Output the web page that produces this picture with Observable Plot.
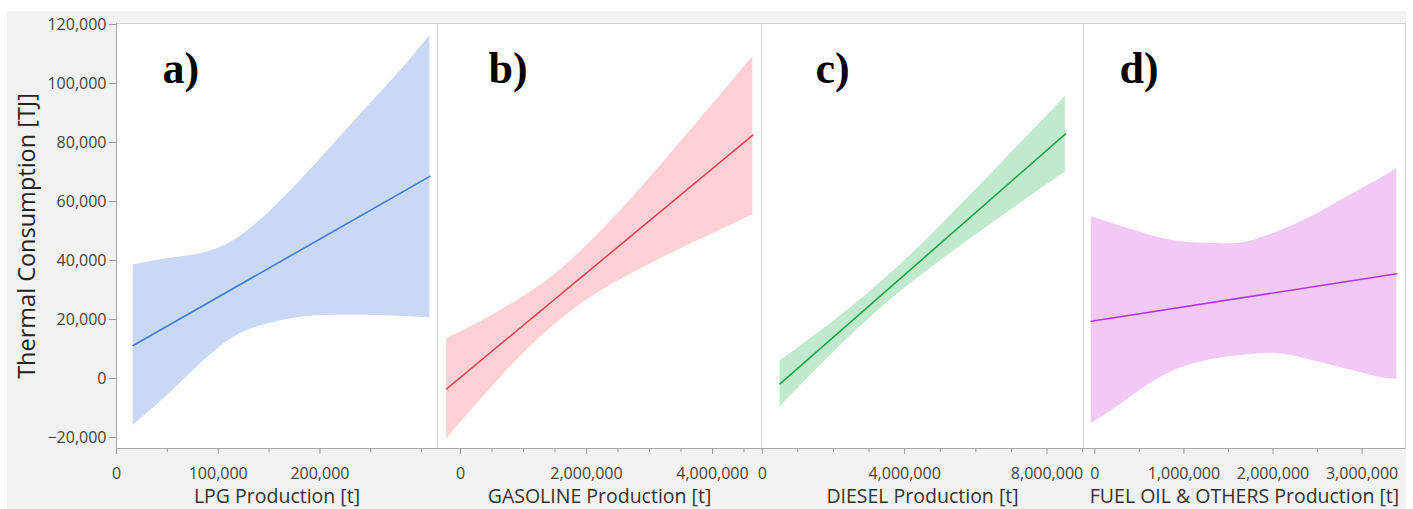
<!DOCTYPE html>
<html>
<head>
<meta charset="utf-8">
<script src="https://cdn.jsdelivr.net/npm/d3@7"></script>
<script src="https://cdn.jsdelivr.net/npm/@observablehq/plot@0.6"></script>
<style>
  html, body { margin: 0; padding: 0; background: #ffffff; }
  #wrap { position: relative; width: 1413px; height: 509px; overflow: hidden; background: #ffffff; }
  #bg { position: absolute; left: 7px; top: 11px; width: 1399px; height: 498px; background: #f2f2f2; }
  .panel { position: absolute; top: 0; }
</style>
</head>
<body>
<div id="wrap"><div id="bg"></div></div>
<script>
// ---------- data ----------
const yTicks = [-20000, 0, 20000, 40000, 60000, 80000, 100000, 120000];
const yDomain = [-23730, 120340];

const panelLetters = ["a)", "b)", "c)", "d)"];
const xLabels = ["LPG Production [t]", "GASOLINE Production [t]", "DIESEL Production [t]", "FUEL OIL & OTHERS Production [t]"];

// a) LPG
const lpgX     = [16400, 49800, 82600, 115300, 148200, 180900, 213700, 246500, 279300, 308100];
const lpgUpper = [38500, 40600, 42300, 46800, 55800, 67100, 79500, 92000, 104400, 116300];
const lpgLower = [-15900, -5800, 5000, 14000, 18500, 20800, 21400, 21400, 21000, 20600];
const lpgFitX  = [16400, 308100];
const lpgFitY  = [11200, 68500];
const lpgTickLabels = [0, 100000, 200000];
const lpgTicks = [0, 50000, 100000, 150000, 200000, 250000, 300000];

// b) GASOLINE
const gasX     = [-220000, 160000, 630000, 1110000, 1590000, 2060000, 2540000, 3020000, 3490000, 3970000, 4440000, 4640000];
const gasUpper = [13500, 17500, 23000, 29300, 36900, 46300, 56900, 68400, 80100, 92100, 104100, 109100];
const gasLower = [-20400, -11100, 200, 10800, 20000, 27400, 33500, 38900, 43900, 48700, 53500, 55400];
const gasFitX  = [-220000, 4640000];
const gasFitY  = [-3500, 82500];
const gasTickLabels = [0, 2000000, 4000000];
const gasTicks = [0, 500000, 1000000, 1500000, 2000000, 2500000, 3000000, 3500000, 4000000, 4500000];

// c) DIESEL
const dieX     = [500000, 1360000, 2200000, 3040000, 3880000, 4730000, 5570000, 6410000, 7260000, 7960000, 8520000];
const dieUpper = [6000, 13600, 21300, 29600, 38600, 48400, 58700, 69100, 79800, 88600, 95800];
const dieLower = [-9600, 1100, 11200, 20700, 29400, 37400, 44900, 52200, 59400, 65400, 70100];
const dieFitX  = [500000, 8520000];
const dieFitY  = [-1800, 82900];
const dieTickLabels = [0, 4000000, 8000000];
const dieTicks = [0, 1000000, 2000000, 3000000, 4000000, 5000000, 6000000, 7000000, 8000000, 9000000];

// d) FUEL OIL & OTHERS
const fuelX     = [-40000, 250000, 620000, 1000000, 1370000, 1680000, 2050000, 2430000, 2800000, 3170000, 3390000];
const fuelUpper = [54800, 52000, 48600, 46300, 45800, 46100, 49700, 54800, 61000, 67200, 71200];
const fuelLower = [-15300, -9600, -1700, 4000, 6800, 7900, 8500, 6200, 3400, 600, -300];
const fuelFitX  = [-40000, 3390000];
const fuelFitY  = [19400, 35500];
const fuelTickLabels = [0, 1000000, 2000000, 3000000];
const fuelTicks = [0, 500000, 1000000, 1500000, 2000000, 2500000, 3000000];

// ---------- panel setup (layout / style) ----------
const panels = [
  {x: lpgX, up: lpgUpper, lo: lpgLower, fx: lpgFitX, fy: lpgFitY, labels: lpgTickLabels, ticks: lpgTicks,
   domain: [0, 315600], fill: "#c9d8f4", stroke: "#3b7ee0", frameLeft: 116, frameWidth: 321, withY: true, letterDx: 46},
  {x: gasX, up: gasUpper, lo: gasLower, fx: gasFitX, fy: gasFitY, labels: gasTickLabels, ticks: gasTicks,
   domain: [-365000, 4778000], fill: "#ffd1d6", stroke: "#f0414f", frameLeft: 437, frameWidth: 324, withY: false, letterDx: 51},
  {x: dieX, up: dieUpper, lo: dieLower, fx: dieFitX, fy: dieFitY, labels: dieTickLabels, ticks: dieTicks,
   domain: [-20000, 9025000], fill: "#c0e9cd", stroke: "#17a548", frameLeft: 761, frameWidth: 322, withY: false, letterDx: 54},
  {x: fuelX, up: fuelUpper, lo: fuelLower, fx: fuelFitX, fy: fuelFitY, labels: fuelTickLabels, ticks: fuelTicks,
   domain: [-127000, 3487000], fill: "#f0c9f5", stroke: "#b435e3", frameLeft: 1083, frameWidth: 322, withY: false, letterDx: 36}
];

const font = "'Open Sans', 'Noto Sans', sans-serif";
const wrap = document.getElementById("wrap");

panels.forEach((p, i) => {
  const band = p.x.map((x, j) => ({x, lo: p.lo[j], hi: p.up[j]}));
  const fit = p.fx.map((x, j) => ({x, y: p.fy[j]}));
  const ml = p.withY ? p.frameLeft : 40;
  const mr = i === 3 ? 8 : 40;
  const minor = p.ticks.filter(t => !p.labels.includes(t));
  const marks = [
    Plot.frame({fill: "white", stroke: null}),
    Plot.areaY(band, {x: "x", y1: "lo", y2: "hi", fill: p.fill, curve: "natural"}),
    Plot.line(fit, {x: "x", y: "y", stroke: p.stroke, strokeWidth: 1.6}),
    Plot.frame({stroke: "#d2d2d2", strokeWidth: 1}),
    Plot.ruleY([yDomain[0]], {stroke: "#a8a8a8", strokeWidth: 1}),
    Plot.axisX({ticks: minor, tickSize: 4, stroke: "#9a9a9a", fill: "none", label: null}),
    Plot.axisX({ticks: p.labels, tickSize: 6, tickPadding: 13, stroke: "#9a9a9a", tickFormat: d3.format(","),
      fill: "#444", fontSize: 16, label: null}),
    Plot.text([xLabels[i]], {frameAnchor: "bottom", dy: 54, fontSize: 19.5, fill: "#333", fontFamily: font}),
    Plot.text([panelLetters[i]], {frameAnchor: "top-left", dx: p.letterDx, dy: 59, lineAnchor: "bottom",
      textAnchor: "start", fontSize: 44, fontWeight: "bold", fontFamily: "'Liberation Serif', 'DejaVu Serif', serif", fill: "#000"})
  ];
  if (p.withY) {
    marks.push(
      Plot.ruleX([p.domain[0]], {stroke: "#a8a8a8", strokeWidth: 1}),
      Plot.axisY({ticks: yTicks, tickSize: 7, tickPadding: 3, stroke: "#9a9a9a", tickFormat: d3.format(","),
        fill: "#444", fontSize: 16, label: null}),
      Plot.text(["Thermal Consumption [TJ]"], {frameAnchor: "left", dx: -89, rotate: -90, fontSize: 23.5,
        textAnchor: "middle", lineAnchor: "middle", fill: "#222", fontFamily: font})
    );
  }
  const chart = Plot.plot({
    width: p.frameWidth + ml + mr,
    height: 509,
    marginLeft: ml, marginRight: mr, marginTop: 23, marginBottom: 61,
    style: {background: "transparent", fontFamily: font, overflow: "visible"},
    x: {domain: p.domain, axis: null},
    y: {domain: yDomain, axis: null},
    marks
  });
  chart.classList.add("panel");
  chart.style.left = (p.frameLeft - ml) + "px";
  wrap.appendChild(chart);
});
</script>
</body>
</html>
